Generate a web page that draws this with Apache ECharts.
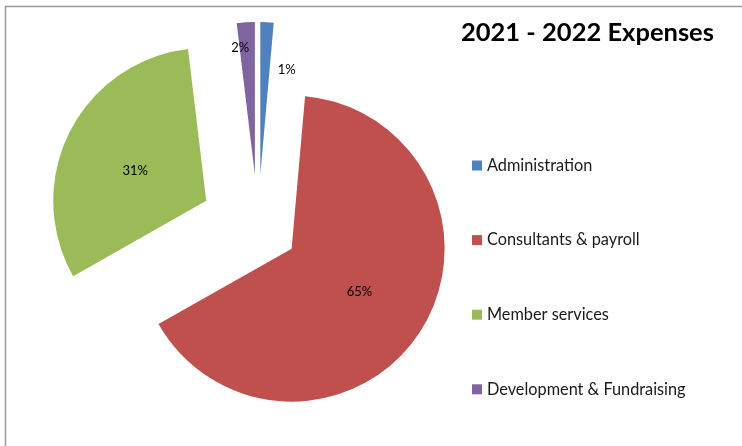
<!DOCTYPE html>
<html><head><meta charset="utf-8">
<script src="https://cdn.jsdelivr.net/npm/echarts@6/dist/echarts.min.js"></script>
<style>html,body{margin:0;padding:0;background:#fff}#c{width:742px;height:446px}</style>
</head><body><div id="c"></div>
<script>
// ---- data ----
const titleText = '2021 - 2022 Expenses';
const categories = ['Administration', 'Consultants & payroll', 'Member services', 'Development & Fundraising'];
const values = [1.4, 65.4, 31.3, 1.9];

// ---- styles ----
const colors = ['#4F81BD', '#C0504D', '#9BBB59', '#8064A2'];
const explodeBy = [52, 40, 58, 52];
const labelNudge = [{dx: 23, dy: -26}, {dx: 1, dy: 0}, {dx: 0, dy: 6}, {dx: -10, dy: -48}];
const FONT = 'Lato';

const chart = echarts.init(document.getElementById('c'), null, {renderer: 'canvas'});

const series = categories.map((name, i) => ({
  type: 'pie',
  center: [258, 227],
  radius: 153,
  startAngle: 90,
  clockwise: true,
  selectedMode: 'multiple',
  selectedOffset: explodeBy[i],
  animation: false,
  silent: true,
  avoidLabelOverlap: false,
  emphasis: {disabled: true},
  labelLine: {show: false},
  label: {
    show: true, position: 'inside', color: '#000', fontSize: 13, fontFamily: FONT,
    formatter: p => Math.round(p.percent) + '%'
  },
  labelLayout: labelNudge[i],
  data: categories.map((n, j) => ({
    name: n,
    value: values[j],
    selected: j === i,
    itemStyle: {color: j === i ? colors[j] : 'rgba(0,0,0,0)'},
    label: {show: j === i}
  }))
}));

chart.setOption({
  animation: false,
  title: {
    text: titleText, left: 461, top: 20, padding: 0,
    textStyle: {fontSize: 25.5, fontWeight: 'bold', fontFamily: FONT, color: '#000'}
  },
  legend: {
    orient: 'vertical', left: 472, top: 157.5, padding: 0,
    itemWidth: 10, itemHeight: 10, itemGap: 58.6, icon: 'rect',
    selectedMode: false,
    textStyle: {fontSize: 16.3, fontFamily: FONT, color: '#1a1a1a', lineHeight: 16},
    data: categories.map((n, i) => ({name: n, itemStyle: {color: colors[i]}}))
  },
  graphic: [{
    type: 'rect', silent: true,
    shape: {x: 5.5, y: 6.5, width: 900, height: 900},
    style: {fill: 'none', stroke: '#9a9a9a', lineWidth: 1.5}
  }],
  series: series
});
</script></body></html>
